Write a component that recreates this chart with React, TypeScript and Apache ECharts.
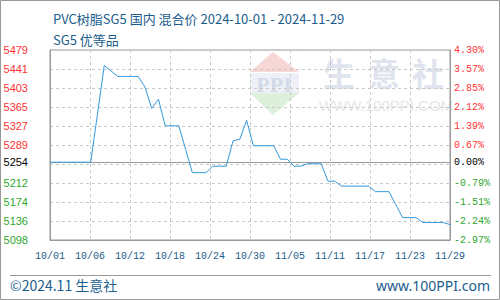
import React, { useEffect, useRef } from "react";
import * as echarts from "echarts";

const TITLE = "PVC树脂SG5 国内 混合价 2024-10-01 - 2024-11-29";
const SUBTITLE = "SG5 优等品";
const X_LABELS = ["10/01", "10/06", "10/12", "10/18", "10/24", "10/30", "11/05", "11/11", "11/17", "11/23", "11/29"];
const LEFT_LABELS = ["5098", "5136", "5174", "5212", "5254", "5289", "5327", "5365", "5403", "5441", "5479"];
const RIGHT_LABELS = ["-2.97%", "-2.24%", "-1.51%", "-0.79%", "0.00%", "0.67%", "1.39%", "2.12%", "2.85%", "3.57%", "4.30%"];
const Y_MIN = 5098;
const Y_MAX = 5479;
const BASE_VALUE = 5254;
const BASE_INDEX = 4;
const DAY_SPAN = 59;
// daily prices 2024-10-01 .. 2024-11-29
const PRICES = [
  5254, 5254, 5254, 5254, 5254, 5254, 5254, 5350, 5448, 5437,
  5426, 5426, 5426, 5426, 5405, 5362, 5380, 5327, 5327, 5327,
  5280, 5233, 5233, 5233, 5246, 5246, 5246, 5297, 5300, 5338,
  5287, 5287, 5287, 5287, 5260, 5260, 5246, 5246, 5251, 5251,
  5251, 5216, 5216, 5206, 5206, 5206, 5206, 5206, 5195, 5195,
  5195, 5169, 5143, 5143, 5143, 5133, 5133, 5133, 5133, 5129,
];

const BLUE_TEXT = "#1b5d8c";
const RED = "#ff3333";
const GREEN = "#2ea82e";

export default function App() {
  const ref = useRef<HTMLDivElement>(null);
  useEffect(() => {
    if (!ref.current) return;
    const chart = echarts.init(ref.current, undefined, { renderer: "svg" });
    const yRange = Y_MAX - Y_MIN;
    const yStep = yRange / (LEFT_LABELS.length - 1);
    const xStep = DAY_SPAN / (X_LABELS.length - 1);
    const idxOf = (v: number) => Math.round(v / yStep);
    const colorOf = (v: any) => {
      const i = idxOf(Number(v));
      return i > BASE_INDEX ? RED : i < BASE_INDEX ? GREEN : "#000";
    };
    chart.setOption({
      animation: false,
      backgroundColor: "#fff",
      title: [
        { text: TITLE, left: 48, top: 7, textStyle: { fontSize: 13, fontWeight: "normal", color: BLUE_TEXT, fontFamily: "Noto Sans CJK SC" } },
        { text: SUBTITLE, left: 48, top: 28, textStyle: { fontSize: 13, fontWeight: "normal", color: BLUE_TEXT, fontFamily: "Noto Sans CJK SC" } },
      ],
      grid: { left: 50, top: 50, width: 400, height: 190, show: true, borderColor: "#999", borderWidth: 1 },
      xAxis: {
        type: "value",
        min: 0,
        max: DAY_SPAN,
        interval: xStep,
        axisLine: { show: true, lineStyle: { color: "#999" } },
        axisTick: { show: false },
        axisLabel: {
          margin: 11,
          fontSize: 10,
          fontFamily: "Liberation Mono",
          color: BLUE_TEXT,
          formatter: (v: number) => X_LABELS[Math.round(v / xStep)] ?? "",
        },
        splitLine: { show: true, lineStyle: { color: "#c8c8c8", type: [3, 3] } },
      },
      yAxis: [
        {
          type: "value",
          min: 0,
          max: yRange,
          interval: yStep,
          axisLine: { show: true, lineStyle: { color: "#999" } },
          axisTick: { show: false },
          axisLabel: {
            margin: 22,
            fontSize: 11,
            fontFamily: "Liberation Sans",
            color: colorOf,
            formatter: (v: number) => (idxOf(v) === BASE_INDEX ? "" : LEFT_LABELS[idxOf(v)] ?? ""),
          },
          splitLine: { show: true, lineStyle: { color: "#c8c8c8", type: [3, 3] } },
        },
        {
          type: "value",
          position: "right",
          min: 0,
          max: yRange,
          interval: yStep,
          axisLine: { show: true, lineStyle: { color: "#999" } },
          axisTick: { show: false },
          axisLabel: {
            margin: 4,
            fontSize: 10,
            fontFamily: "Liberation Mono",
            color: colorOf,
            formatter: (v: number) => (idxOf(v) === BASE_INDEX ? "" : RIGHT_LABELS[idxOf(v)] ?? ""),
          },
          splitLine: { show: false },
        },
      ],
      graphic: [
        { type: "rect", shape: { x: 0.5, y: 0.5, width: 499, height: 299 }, style: { fill: "none", stroke: "#999", lineWidth: 1 }, z: 100 },
        { type: "line", shape: { x1: 10, y1: 275.5, x2: 491, y2: 275.5 }, style: { stroke: "#999", lineWidth: 1 } },
        { type: "text", x: 10, y: 285, style: { text: "©2024.11 生意社", fontSize: 14, fill: BLUE_TEXT, fontFamily: "Noto Sans CJK SC", textVerticalAlign: "middle" } },
        { type: "text", x: 490, y: 285, style: { text: "www.100PPI.com", fontSize: 14, fill: BLUE_TEXT, fontFamily: "Noto Sans", textAlign: "right", textVerticalAlign: "middle" } },
        // watermark logo
        { type: "polygon", z: -10, shape: { points: [[273, 52], [250, 72], [299, 72]] }, style: { fill: "#f7d6d6" } },
        { type: "rect", z: -10, shape: { x: 250, y: 73, width: 49, height: 20 }, style: { fill: "#eef1f7" } },
        { type: "text", z: -9, x: 274, y: 84, style: { text: "PPI", fontSize: 22, fontWeight: "bold", fontFamily: "Liberation Serif", fill: "#d3dae8", textAlign: "center", textVerticalAlign: "middle" } },
        { type: "polygon", z: -10, shape: { points: [[250, 93], [299, 93], [273, 115]] }, style: { fill: "#dcf0dc" } },
        { type: "text", z: -9, x: 339, y: 72, style: { text: "生", fontSize: 32, fontFamily: "Noto Sans CJK SC", fontWeight: "bold", fill: "#dfe4ee", textAlign: "center", textVerticalAlign: "middle" } },
        { type: "text", z: -9, x: 384, y: 72, style: { text: "意", fontSize: 32, fontFamily: "Noto Sans CJK SC", fontWeight: "bold", fill: "#dfe4ee", textAlign: "center", textVerticalAlign: "middle" } },
        { type: "text", z: -9, x: 428, y: 72, style: { text: "社", fontSize: 32, fontFamily: "Noto Sans CJK SC", fontWeight: "bold", fill: "#dfe4ee", textAlign: "center", textVerticalAlign: "middle" } },
        { type: "text", z: -9, x: 386, y: 105, style: { text: "WWW.100PPI.COM", fontSize: 15, fontFamily: "Liberation Sans", fill: "#e6e6e6", textAlign: "center", textVerticalAlign: "middle" } },
      ],
      series: [
        {
          type: "line",
          symbol: "none",
          data: PRICES.map((p, i) => [i, p - Y_MIN]),
          lineStyle: { color: "#3399dd", width: 1 },
          itemStyle: { color: "#3399dd" },
          z: 5,
          markLine: {
            silent: true,
            symbol: "none",
            lineStyle: { color: "#999", type: "solid", width: 1 },
            data: [
              {
                yAxis: BASE_VALUE - Y_MIN,
                label: { show: true, position: "start", distance: 22, formatter: LEFT_LABELS[BASE_INDEX], color: "#000", fontSize: 11, fontFamily: "Liberation Sans" },
              },
              {
                yAxis: BASE_VALUE - Y_MIN,
                label: { show: true, position: "end", distance: 4, formatter: RIGHT_LABELS[BASE_INDEX], color: "#000", fontSize: 10, fontFamily: "Liberation Mono" },
              },
            ],
          },
        },
      ],
    });
    return () => chart.dispose();
  }, []);
  return <div ref={ref} style={{ position: "fixed", left: 0, top: 0, width: 500, height: 300 }} />;
}
